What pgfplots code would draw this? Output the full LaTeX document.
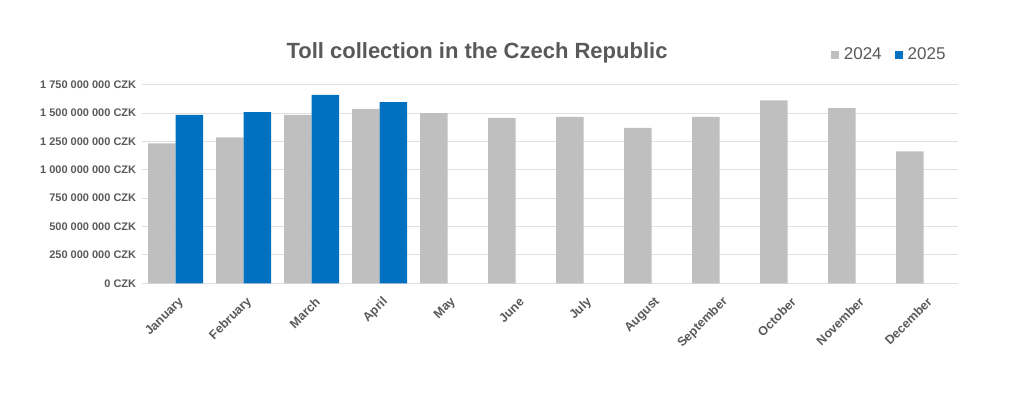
\documentclass[border=0pt]{standalone}
\usepackage{pgfplots}
\pgfplotsset{compat=1.18}
\usepackage{fontspec}
\setmainfont{Liberation Sans}
\definecolor{g24}{HTML}{BFBFBF}
\definecolor{b25}{HTML}{0070C0}
\definecolor{txt}{HTML}{595959}
\definecolor{grd}{HTML}{E0E0E0}
\begin{document}
\begin{tikzpicture}[x=1pt,y=1pt]
\useasboundingbox (0,0) rectangle (1024,392);
\begin{axis}[
  at={(141.7pt,108.7pt)}, anchor=south west,
  scale only axis, width=816pt, height=198.6pt,
  ybar=0pt, bar width=27.5pt,
  xmin=-0.5, xmax=11.5, ymin=0, ymax=1750,
  enlargelimits=false,
  xtick={0,...,11},
  xticklabels={January,February,March,April,May,June,July,August,September,October,November,December},
  ytick={0,250,500,750,1000,1250,1500,1750},
  yticklabels={0 CZK,250 000 000 CZK,500 000 000 CZK,750 000 000 CZK,1 000 000 000 CZK,1 250 000 000 CZK,1 500 000 000 CZK,1 750 000 000 CZK},
  axis line style={draw=none},
  tick style={draw=none},
  ymajorgrids, major grid style={draw=grd, line width=1pt},
  yticklabel style={font=\fontsize{11}{13}\selectfont\bfseries, text=txt, xshift=-2pt},
  xticklabel style={font=\fontsize{12.5}{14}\selectfont\bfseries, text=txt, rotate=45, anchor=east, xshift=-1pt, yshift=-13pt},
  legend style={at={(axis description cs:0.916,1.151)}, anchor=center, draw=none, legend columns=2,
    font=\fontsize{17}{19}\selectfont, text=txt,
    /tikz/every even column/.append style={column sep=11pt}},
  legend image code/.code={\fill[#1] (0pt,-4pt) rectangle (8pt,4pt); \path (0pt,0pt) -- (11pt,0pt);},
]
\addplot[fill=g24, draw=none] coordinates {(0,1232) (1,1285) (2,1484) (3,1537) (4,1500) (5,1458) (6,1467) (7,1370) (8,1467) (9,1611) (10,1543) (11,1162)};
\addplot[fill=b25, draw=none] coordinates {(0,1484) (1,1508) (2,1660) (3,1596)};
\legend{2024,2025}
\end{axis}
\node[font=\fontsize{22}{24}\selectfont\bfseries, text=txt] at (477,339) {Toll collection in the Czech Republic};
\end{tikzpicture}
\end{document}
